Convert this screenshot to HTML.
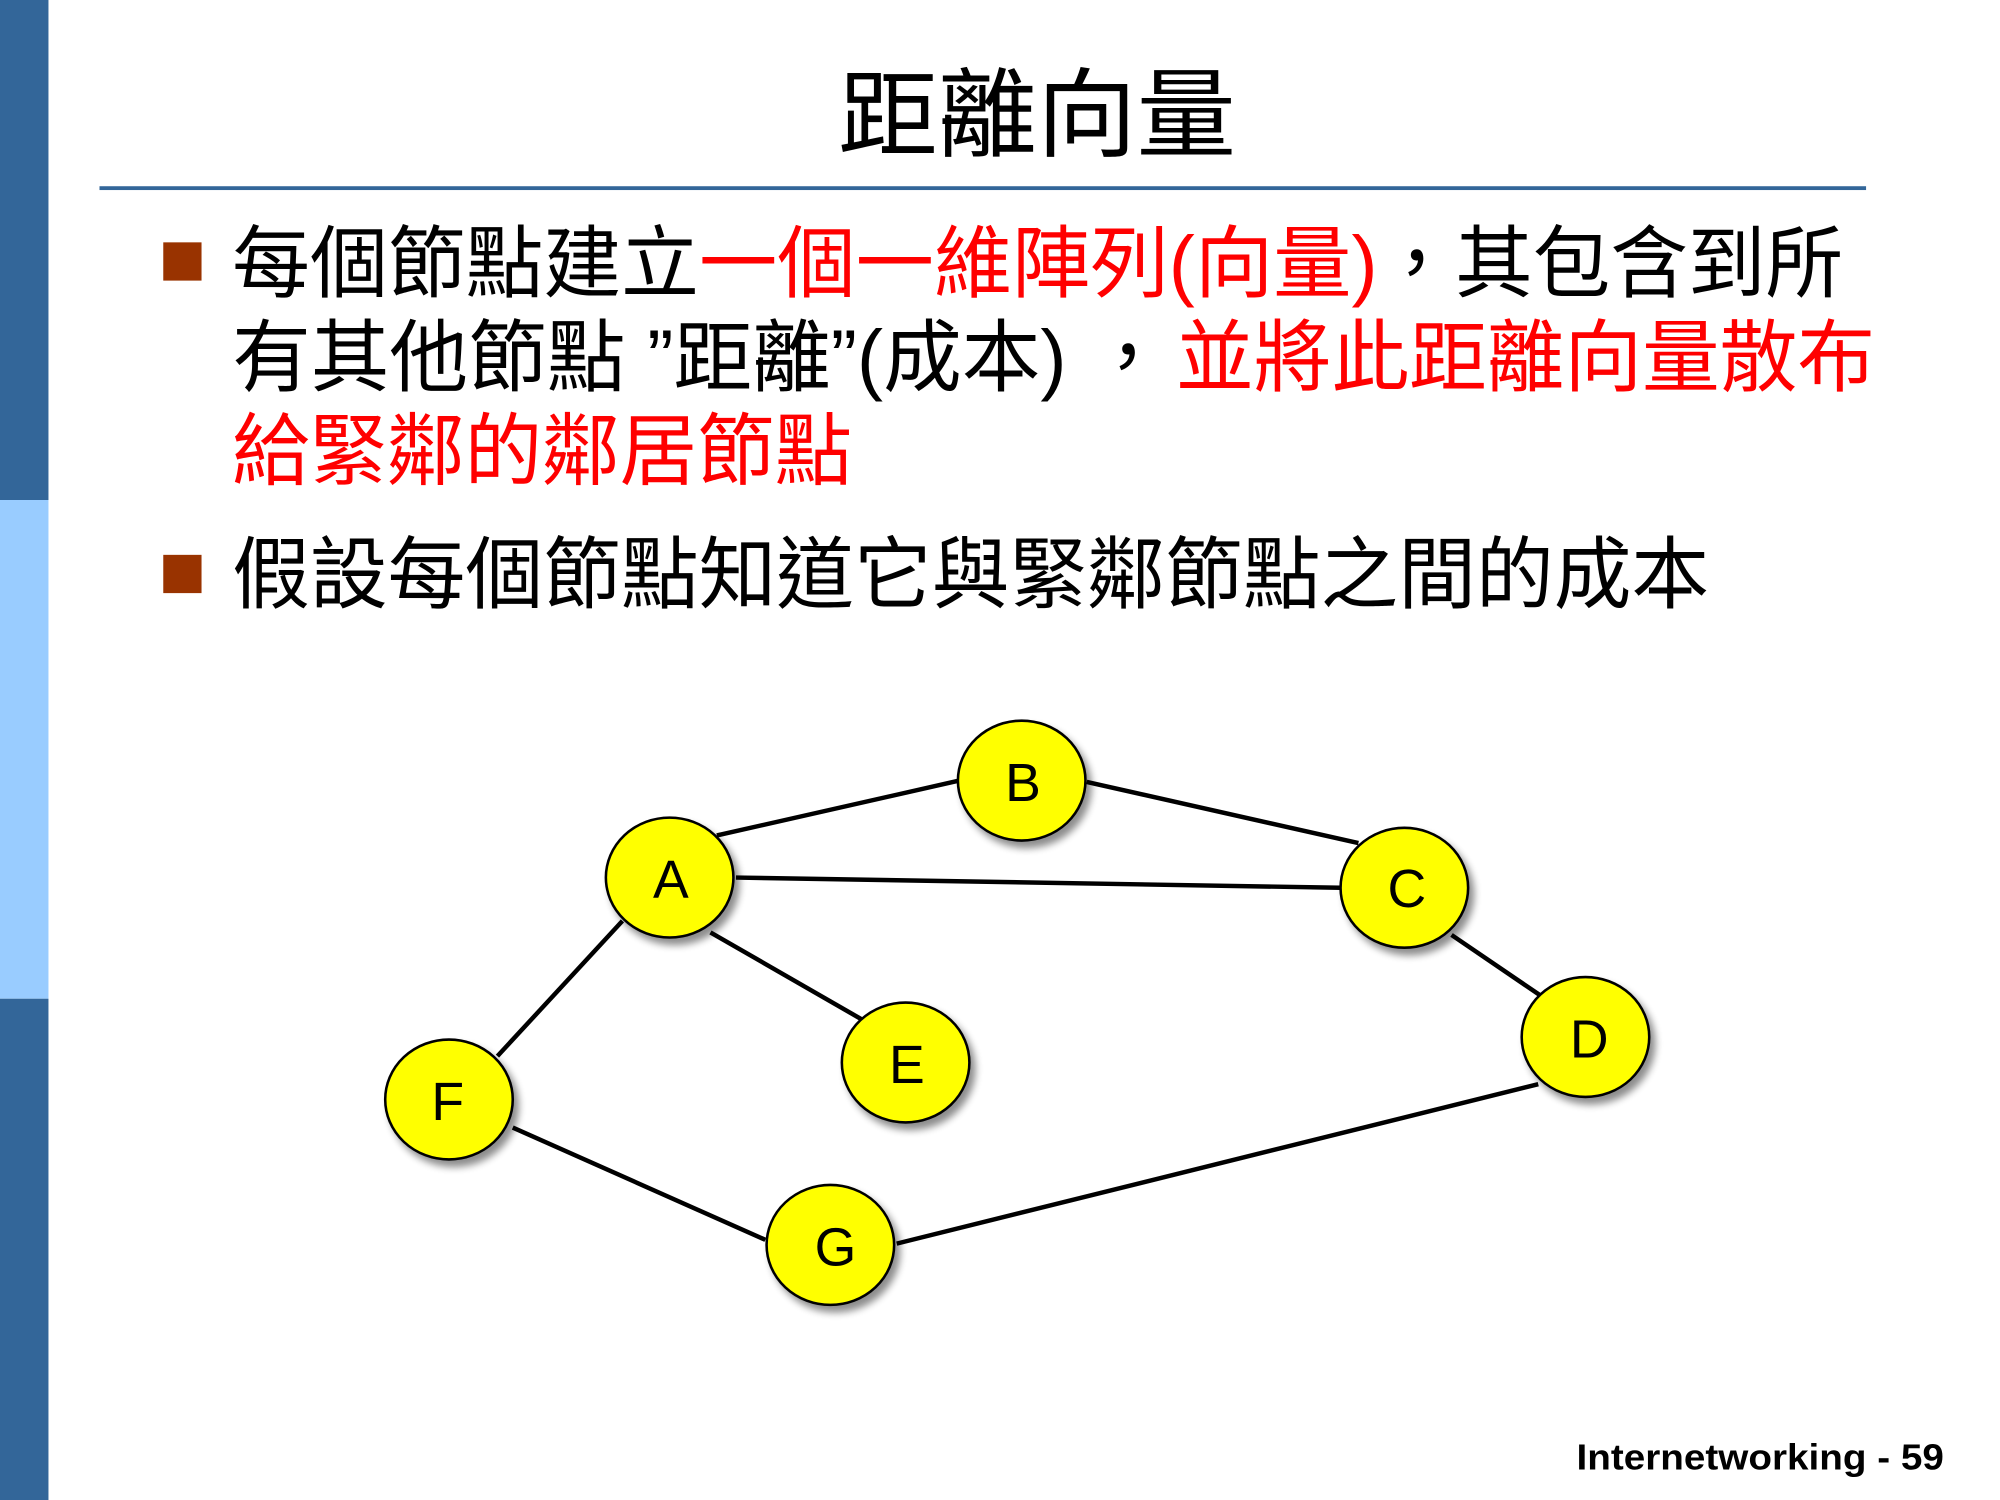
<!DOCTYPE html>
<html><head><meta charset="utf-8"><style>
html,body{margin:0;padding:0;background:#fff;}
svg{display:block;}
text{font-family:"Liberation Sans","Noto Sans CJK TC",sans-serif;}
</style></head><body>
<svg width="2000" height="1500" viewBox="0 0 1568 1176" preserveAspectRatio="none" xmlns="http://www.w3.org/2000/svg">
<defs>
<filter id="sh" x="-30%" y="-30%" width="160%" height="160%">
<feGaussianBlur in="SourceAlpha" stdDeviation="3"/><feOffset dx="4" dy="5"/>
<feComponentTransfer><feFuncA type="linear" slope="0.45"/></feComponentTransfer>
<feMerge><feMergeNode/><feMergeNode in="SourceGraphic"/></feMerge></filter>
</defs>
<rect width="1568" height="1176" fill="#fff"/>
<rect x="0" y="0" width="38" height="392" fill="#336699"/>
<rect x="0" y="392" width="38" height="391" fill="#99ccff"/>
<rect x="0" y="783" width="38" height="393" fill="#336699"/>
<text x="657" y="117" font-size="76" textLength="312" lengthAdjust="spacingAndGlyphs">距離向量</text>
<rect x="78" y="146" width="1385" height="3" fill="#336699"/>
<rect x="128" y="190" width="30" height="30" fill="#993300"/>
<rect x="128" y="435" width="30" height="30" fill="#993300"/>
<g font-size="62">
<text x="182" y="228" textLength="366" lengthAdjust="spacingAndGlyphs">每個節點建立</text>
<text x="548" y="228" textLength="532" lengthAdjust="spacingAndGlyphs" fill="#ff0000">一個一維陣列(向量)</text>
<text x="1080" y="228" textLength="365" lengthAdjust="spacingAndGlyphs">，其包含到所</text>
<text x="182" y="302" textLength="733" lengthAdjust="spacingAndGlyphs">有其他節點 ”距離”(成本) ，</text>
<text x="922" y="302" textLength="548" lengthAdjust="spacingAndGlyphs" fill="#ff0000">並將此距離向量散布</text>
<text x="182" y="375" textLength="486" lengthAdjust="spacingAndGlyphs" fill="#ff0000">給緊鄰的鄰居節點</text>
<text x="182" y="472" textLength="1158" lengthAdjust="spacingAndGlyphs">假設每個節點知道它與緊鄰節點之間的成本</text>
</g>
<g stroke="#000" stroke-width="3.5">
<line x1="562" y1="655" x2="752" y2="612"/>
<line x1="852" y1="613" x2="1065" y2="661"/>
<line x1="577" y1="688" x2="1051" y2="696"/>
<line x1="1138" y1="733" x2="1207" y2="780"/>
<line x1="557" y1="731" x2="677" y2="800"/>
<line x1="488" y1="722" x2="390" y2="828"/>
<line x1="402" y1="884" x2="600" y2="972"/>
<line x1="703" y1="975" x2="1206" y2="850"/>
</g>
<g fill="#ffff00" stroke="#000" stroke-width="2" filter="url(#sh)">
<ellipse cx="801" cy="612" rx="50" ry="47"/>
<ellipse cx="525" cy="688" rx="50" ry="47"/>
<ellipse cx="1101" cy="696" rx="50" ry="47"/>
<ellipse cx="1243" cy="813" rx="50" ry="47"/>
<ellipse cx="710" cy="833" rx="50" ry="47"/>
<ellipse cx="352" cy="862" rx="50" ry="47"/>
<ellipse cx="651" cy="976" rx="50" ry="47"/>
</g>
<g font-size="42" text-anchor="middle" fill="#000">
<text x="802" y="628">B</text>
<text x="526" y="704">A</text>
<text x="1103" y="711">C</text>
<text x="1246" y="829">D</text>
<text x="711" y="849">E</text>
<text x="351" y="878">F</text>
<text x="655" y="992">G</text>
</g>
<text x="1236" y="1152" font-size="28" font-weight="bold" textLength="288" lengthAdjust="spacingAndGlyphs">Internetworking - 59</text>
</svg>
</body></html>
